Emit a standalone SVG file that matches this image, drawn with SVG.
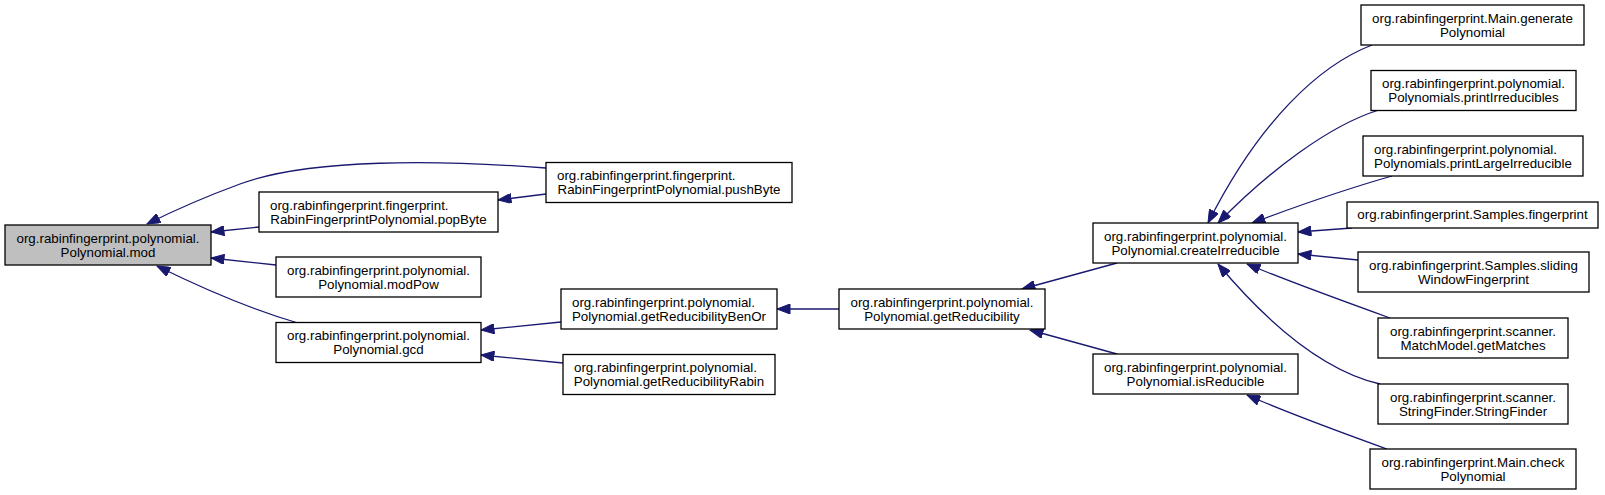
<svg xmlns="http://www.w3.org/2000/svg" width="1605" height="495" viewBox="0 0 1605 495">
<style>
.n rect{fill:#fff;stroke:#000;stroke-width:1.3}
.n.cur rect{fill:#bfbfbf}
.n text{font-family:"Liberation Sans",Arial,Helvetica,sans-serif;font-size:13.33px;fill:#000;text-anchor:middle}
.n text.l{text-anchor:start}
.e path{fill:none;stroke:#191970;stroke-width:1.3;marker-end:url(#ah)}
</style>
<defs>
<marker id="ah" markerUnits="userSpaceOnUse" markerWidth="14" markerHeight="10" viewBox="0 0 13 10" refX="13" refY="5" orient="auto">
<path d="M0,0 L13,5 L0,10 z" fill="#191970" stroke="#191970" stroke-width="1"/>
</marker>
</defs>
<rect width="1605" height="495" fill="#fff"/>
<g id="edges" class="e">
<path d="M546,168 C440,160 310,158 240,184 C210,195 175,210 147,224"/>
<path d="M259,227 L211,232"/>
<path d="M276,265 L211,258"/>
<path d="M298,323 C260,312 220,297 157,266"/>
<path d="M546,194 L498,200"/>
<path d="M561,322 L481,330"/>
<path d="M563,363 L481,355"/>
<path d="M839,309 L777,309"/>
<path d="M1117,263 L1022,289"/>
<path d="M1117,354 L1030,330"/>
<path d="M1372,45 C1320,65 1260,120 1208,223"/>
<path d="M1379,110 C1330,125 1270,170 1218,223"/>
<path d="M1392,176 C1350,188 1300,205 1252,223"/>
<path d="M1352,228 L1298,232"/>
<path d="M1358,260 L1298,254"/>
<path d="M1390,318 C1340,300 1290,282 1247,264"/>
<path d="M1380,384 C1320,370 1265,320 1218,264"/>
<path d="M1387,449 C1340,432 1290,414 1247,395"/>
</g>
<g id="node-mod" class="n cur"><rect x="5" y="225" width="206" height="40"/><text x="108" y="242.5">org.rabinfingerprint.polynomial.</text><text x="108" y="256.5">Polynomial.mod</text></g>
<g id="node-popByte" class="n"><rect x="259" y="192" width="239" height="40"/><text class="l" x="270" y="209.5">org.rabinfingerprint.fingerprint.</text><text x="378.5" y="223.5">RabinFingerprintPolynomial.popByte</text></g>
<g id="node-modPow" class="n"><rect x="276" y="257" width="205" height="40"/><text x="378.5" y="274.5">org.rabinfingerprint.polynomial.</text><text x="378.5" y="288.5">Polynomial.modPow</text></g>
<g id="node-gcd" class="n"><rect x="276" y="322.5" width="205" height="40"/><text x="378.5" y="340">org.rabinfingerprint.polynomial.</text><text x="378.5" y="354">Polynomial.gcd</text></g>
<g id="node-pushByte" class="n"><rect x="546" y="162.5" width="246" height="40"/><text class="l" x="557" y="180">org.rabinfingerprint.fingerprint.</text><text x="669" y="194">RabinFingerprintPolynomial.pushByte</text></g>
<g id="node-benOr" class="n"><rect x="561" y="289" width="216" height="40"/><text class="l" x="572" y="306.5">org.rabinfingerprint.polynomial.</text><text x="669" y="320.5">Polynomial.getReducibilityBenOr</text></g>
<g id="node-rabin" class="n"><rect x="563" y="354.5" width="212" height="40"/><text class="l" x="574" y="372">org.rabinfingerprint.polynomial.</text><text x="669" y="386">Polynomial.getReducibilityRabin</text></g>
<g id="node-getReducibility" class="n"><rect x="839" y="289" width="206" height="40"/><text x="942" y="306.5">org.rabinfingerprint.polynomial.</text><text x="942" y="320.5">Polynomial.getReducibility</text></g>
<g id="node-createIrreducible" class="n"><rect x="1093" y="223" width="205" height="40"/><text x="1195.5" y="240.5">org.rabinfingerprint.polynomial.</text><text x="1195.5" y="254.5">Polynomial.createIrreducible</text></g>
<g id="node-isReducible" class="n"><rect x="1093" y="354" width="205" height="40"/><text x="1195.5" y="371.5">org.rabinfingerprint.polynomial.</text><text x="1195.5" y="385.5">Polynomial.isReducible</text></g>
<g id="node-generatePolynomial" class="n"><rect x="1361" y="5" width="223" height="40"/><text x="1472.5" y="22.5">org.rabinfingerprint.Main.generate</text><text x="1472.5" y="36.5">Polynomial</text></g>
<g id="node-printIrreducibles" class="n"><rect x="1371" y="70.5" width="205" height="40"/><text x="1473.5" y="88">org.rabinfingerprint.polynomial.</text><text x="1473.5" y="102">Polynomials.printIrreducibles</text></g>
<g id="node-printLargeIrreducible" class="n"><rect x="1363" y="136" width="220" height="40"/><text class="l" x="1374" y="153.5">org.rabinfingerprint.polynomial.</text><text x="1473" y="167.5">Polynomials.printLargeIrreducible</text></g>
<g id="node-fingerprint" class="n"><rect x="1347" y="202" width="251" height="26"/><text x="1472.5" y="219">org.rabinfingerprint.Samples.fingerprint</text></g>
<g id="node-slidingWindow" class="n"><rect x="1358" y="252" width="231" height="40"/><text x="1473.5" y="269.5">org.rabinfingerprint.Samples.sliding</text><text x="1473.5" y="283.5">WindowFingerprint</text></g>
<g id="node-getMatches" class="n"><rect x="1378" y="318" width="190" height="40"/><text x="1473" y="335.5">org.rabinfingerprint.scanner.</text><text x="1473" y="349.5">MatchModel.getMatches</text></g>
<g id="node-stringFinder" class="n"><rect x="1378" y="384" width="190" height="40"/><text x="1473" y="401.5">org.rabinfingerprint.scanner.</text><text x="1473" y="415.5">StringFinder.StringFinder</text></g>
<g id="node-checkPolynomial" class="n"><rect x="1370" y="449" width="206" height="40"/><text x="1473" y="466.5">org.rabinfingerprint.Main.check</text><text x="1473" y="480.5">Polynomial</text></g>
</svg>
